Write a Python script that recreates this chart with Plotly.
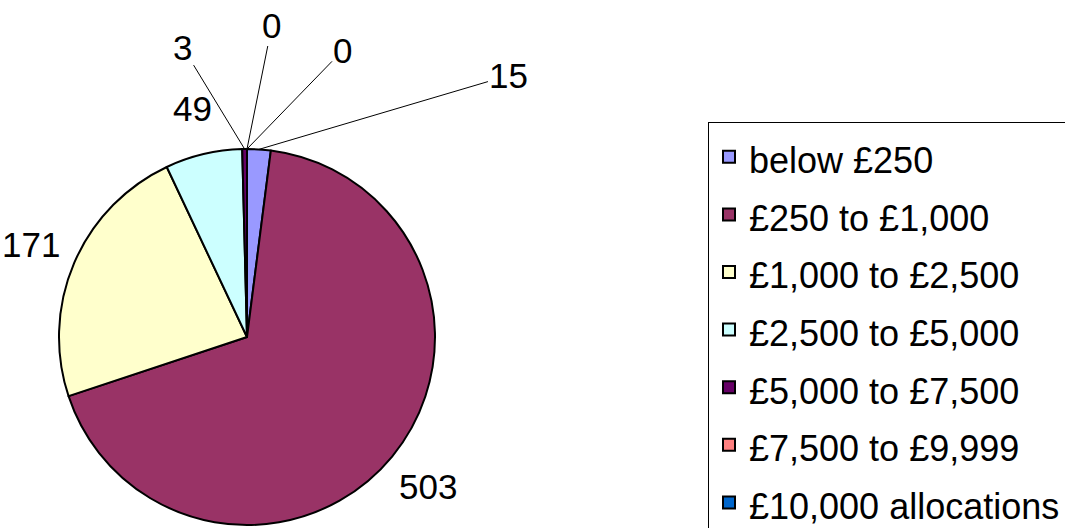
import math
import plotly.graph_objects as go

categories = ["below £250", "£250 to £1,000", "£1,000 to £2,500", "£2,500 to £5,000",
              "£5,000 to £7,500", "£7,500 to £9,999", "£10,000 allocations"]
values = [15, 503, 171, 49, 3, 0, 0]
colors = ["#9999FF", "#993366", "#FFFFCC", "#CCFFFF", "#660066", "#FF8080", "#0066CC"]

W, H = 1065, 528
CX, CY, R = 247, 337, 188          # pie centre and radius in pixels
LABEL_FONT = 35
LEGEND_TEXT = 36

# label offsets (pixels) for thin slices that get leader lines, None = plain label
leader = [(250, -74), None, None, None, (-62, -102), (25, -124), (96, -99)]

legend_labels = ['<span style="font-size:%dpx">%s</span>' % (LEGEND_TEXT, c) for c in categories]

fig = go.Figure(go.Pie(
    labels=legend_labels,
    values=values,
    sort=False,
    direction="clockwise",
    rotation=0,
    textinfo="none",
    hoverinfo="value",
    marker=dict(colors=colors, line=dict(color="#000000", width=2)),
    domain=dict(x=[(CX - R) / W, (CX + R) / W], y=[1 - (CY + R) / H, 1 - (CY - R) / H]),
))

total = sum(values)
cum = 0
annotations = []
for v, off in zip(values, leader):
    mid = (cum + v / 2) / total * 2 * math.pi
    cum += v
    s, c = math.sin(mid), math.cos(mid)
    font = dict(family="Liberation Sans, Arial", size=LABEL_FONT, color="#000")
    if off is None:
        rl = R * 1.25
        px, py = CX + rl * s, CY - rl * c
        annotations.append(dict(x=px / W, y=1 - py / H, xref="paper", yref="paper",
                                xanchor="center", yanchor="middle",
                                text=str(v), showarrow=False, font=font))
    else:
        px, py = CX + R * s, CY - R * c
        annotations.append(dict(x=px / W, y=1 - py / H, xref="paper", yref="paper",
                                text=str(v), showarrow=True, arrowhead=0, arrowwidth=1,
                                arrowcolor="#000", ax=off[0], ay=off[1], standoff=0,
                                font=font))

fig.update_layout(
    width=W, height=H,
    margin=dict(l=0, r=0, t=0, b=0, autoexpand=False),
    paper_bgcolor="white", plot_bgcolor="white",
    font=dict(family="Liberation Sans, Arial", color="#000"),
    annotations=annotations,
    legend=dict(x=708 / W, y=1 - 122 / H, xanchor="left", yanchor="top",
                bgcolor="white", bordercolor="#000", borderwidth=1,
                font=dict(family="Liberation Sans, Arial", size=42, color="#000"),
                itemclick=False, itemdoubleclick=False),
    showlegend=True,
)

fig.write_html("out.html")
